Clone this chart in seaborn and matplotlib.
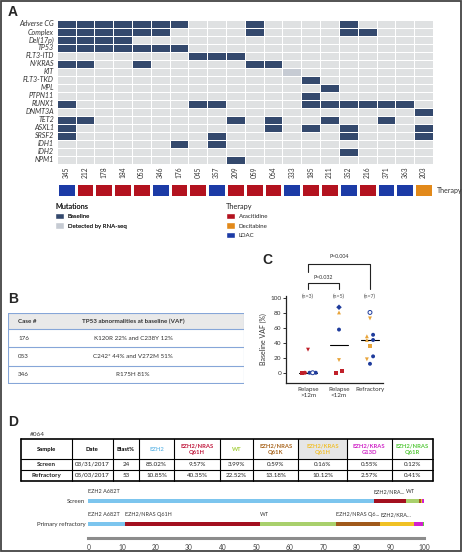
import numpy as np
import pandas as pd
import seaborn as sns
import matplotlib.pyplot as plt
from matplotlib.colors import ListedColormap
from matplotlib.patches import Patch, Rectangle

sns.set_style('white')
plt.rcParams['font.family'] = ['Lato', 'DejaVu Sans']

W, H = 468, 552

# ---------------- data: panel A ----------------
patients = ['345', '212', '178', '184', '053', '346', '176', '045', '357', '209',
            '059', '064', '333', '185', '211', '352', '216', '371', '363', '203']
genes = ['Adverse CG', 'Complex', 'Del(17p)', 'TP53', 'FLT3-ITD', 'N/KRAS', 'KIT',
         'FLT3-TKD', 'MPL', 'PTPN11', 'RUNX1', 'DNMT3A', 'TET2', 'ASXL1', 'SRSF2',
         'IDH1', 'IDH2', 'NPM1']
# column indexes of patients with a baseline mutation
baseline_hits = {
    'Adverse CG': [0, 1, 2, 3, 4, 5, 6, 10, 15],
    'Complex': [0, 1, 2, 3, 4, 5, 10, 15, 16],
    'Del(17p)': [0, 1, 2, 3],
    'TP53': [0, 1, 2, 3, 4, 5, 6],
    'FLT3-ITD': [7, 8, 9],
    'N/KRAS': [0, 1, 4, 10, 11],
    'KIT': [],
    'FLT3-TKD': [13],
    'MPL': [14],
    'PTPN11': [13],
    'RUNX1': [0, 7, 8, 13, 14, 15, 16, 17, 18],
    'DNMT3A': [19],
    'TET2': [0, 1, 9, 11, 14, 17],
    'ASXL1': [0, 11, 13, 15, 19],
    'SRSF2': [0, 8, 15, 19],
    'IDH1': [6, 8],
    'IDH2': [15],
    'NPM1': [9],
}
rnaseq_hits = {'KIT': [12]}
therapy = ['LDAC', 'Azacitidine', 'Azacitidine', 'Azacitidine', 'Azacitidine', 'LDAC',
           'Azacitidine', 'Azacitidine', 'LDAC', 'Azacitidine', 'Azacitidine', 'Azacitidine',
           'LDAC', 'Azacitidine', 'Azacitidine', 'LDAC', 'Azacitidine', 'LDAC', 'LDAC',
           'Decitabine']
therapy_levels = ['Azacitidine', 'Decitabine', 'LDAC']
therapy_colors = ['#b3121f', '#e2891a', '#1c3ba6']

# ---------------- data: panel B ----------------
b_cases = ['176', '053', '346']
b_abn = ['K120R 22% and C238Y 12%', 'C242* 44% and V272M 51%', 'R175H 81%']

# ---------------- data: panel C ----------------
c_groups = ['Relapse\n>12m', 'Relapse\n<12m', 'Refractory']
c_n = ['(n=3)', '(n=5)', '(n=7)']
c_group = [0, 0, 0, 0, 0, 0, 1, 1, 1, 1, 1, 1, 2, 2, 2, 2, 2, 2, 2, 2, 2, 2]
c_vaf = [31, 0, 0, 0, 0, 0, 88, 81, 58, 17, 0, 2, 81, 73, 49, 51, 44, 44, 36, 22, 18, 12]
c_kind = ['red', 'red', 'red', 'blue', 'blue', 'blue',
          'blue', 'orange', 'blue', 'orange', 'red', 'red',
          'blue', 'orange', 'orange', 'blue', 'orange', 'blue', 'orange', 'blue', 'orange', 'blue']
c_marker = ['v', 's', 'o', 'o', 'open', 'o',
            'D', '^', 'o', 'v', 's', 's',
            'open', 'v', '^', 'o', '^', 'o', 's', 'o', 'v', 'o']
c_jitter = [0, -0.2, -0.1, 0.05, 0.15, 0.25, 0, 0, 0, 0, -0.09, 0.1,
            0, 0, -0.1, 0.1, -0.1, 0.1, 0, 0.1, -0.1, 0]
c_palette = {'red': '#c0202a', 'blue': '#1f3c9c', 'orange': '#e8a43a'}

# ---------------- data: panel D ----------------
d_clones = ['EZH2', 'EZH2/NRAS\nQ61H', 'WT', 'EZH2/NRAS\nQ61K', 'EZH2/KRAS\nQ61H',
            'EZH2/KRAS\nG13D', 'EZH2/NRAS\nQ61R']
d_clone_colors = ['#7cc5ee', '#a3101f', '#a9d06c', '#a0591a', '#f0c124', '#d21fcf', '#5fcf3d']
d_head_colors = ['#6fbde8', '#c0183c', '#a5cf3e', '#a8641c', '#f0c030', '#cf22c6', '#55c83a']
d_samples = ['Screen', 'Refractory']
d_dates = ['03/31/2017', '05/03/2017']
d_blast = [24, 53]
screen_vaf = [85.02, 9.57, 3.99, 0.59, 0.16, 0.55, 0.12]
refr_vaf = [10.85, 40.35, 22.52, 13.18, 10.12, 2.57, 0.41]
bar_rows = ['Screen', 'Primary refractory']
screen_labels = ['EZH2 A682T', 'EZH2/NRA...', 'WT', '', '', '', '']
refr_labels = ['EZH2 A682T', 'EZH2/NRAS Q61H', 'WT', 'EZH2/NRAS Q6...', 'EZH2/KRA...', '', '']


def axes_px(x0, y0, x1, y1):
    return fig.add_axes([x0 / W, 1 - y1 / H, (x1 - x0) / W, (y1 - y0) / H])


fig = plt.figure(figsize=(W / 100, H / 100), dpi=100)
fig.patches.append(Rectangle((0.8 / W, 0.8 / H), 460.5 / W, 550.5 / H, transform=fig.transFigure,
                             fill=False, edgecolor='#444444', lw=1.3))

for lab, (x, y) in zip('ABCD', [(8, 12), (8, 299), (262, 260), (8, 422)]):
    fig.text(x / W, 1 - y / H, lab, fontsize=10, fontweight='bold', va='center',
             family=['Liberation Sans', 'DejaVu Sans'])

# ---------------- panel A ----------------
mat = np.zeros((len(genes), len(patients)))
for i, g in enumerate(genes):
    for j in rnaseq_hits.get(g, []):
        mat[i, j] = 1
    for j in baseline_hits[g]:
        mat[i, j] = 2
mut_df = pd.DataFrame(mat, index=genes, columns=patients)

ax_a = axes_px(56.7, 20, 433, 164)
sns.heatmap(mut_df, ax=ax_a, cmap=ListedColormap(['#dfe1e2', '#c6cbd3', '#34496d']),
            vmin=-0.5, vmax=2.5, cbar=False, linewidths=0.6, linecolor='white',
            xticklabels=patients, yticklabels=genes)
ax_a.tick_params(length=0, pad=2)
ax_a.set_yticklabels(genes, rotation=0, fontsize=5.1, style='italic', color='#333333')
ax_a.set_xticklabels(patients, rotation=90, fontsize=4.8, color='#333333')
ax_a.set_xlabel('')
ax_a.set_ylabel('')

ther_df = pd.DataFrame([[therapy_levels.index(t) for t in therapy]], columns=patients)
ax_t = axes_px(56.7, 183, 433, 197)
sns.heatmap(ther_df, ax=ax_t, cmap=ListedColormap(therapy_colors), vmin=-0.5, vmax=2.5,
            cbar=False, linewidths=0.8, linecolor='white', xticklabels=False, yticklabels=False)
fig.text(437 / W, 1 - 190 / H, 'Therapy', fontsize=5, va='center', color='#333333')

leg1 = fig.legend(handles=[Patch(facecolor='#34496d', label='Baseline'),
                           Patch(facecolor='#c6cbd3', label='Detected by RNA-seq')],
                  title='Mutations', loc='upper left', bbox_to_anchor=(55 / W, 1 - 203 / H),
                  frameon=False, fontsize=4.4, title_fontsize=5.3, alignment='left',
                  handlelength=1.4, handleheight=1.3, handletextpad=0.7, labelspacing=0.45,
                  borderpad=0, borderaxespad=0)
fig.legend(handles=[Patch(facecolor=c, label=l) for l, c in zip(therapy_levels, therapy_colors)],
           title='Therapy', loc='upper left', bbox_to_anchor=(226 / W, 1 - 203 / H),
           frameon=False, fontsize=4.4, title_fontsize=5.3, alignment='left',
           handlelength=1.4, handleheight=1.3, handletextpad=0.7, labelspacing=0.45,
           borderpad=0, borderaxespad=0)
fig.add_artist(leg1)

# ---------------- panel B ----------------
ax_b = axes_px(8, 313, 244, 384)
ax_b.set_xlim(8, 244)
ax_b.set_ylim(384, 313)
ax_b.axis('off')
row_edges = [313.3, 329.3, 347.5, 365.7, 383.5]
ax_b.fill_between([8, 244], row_edges[0], row_edges[1], color='#e9e9e9', lw=0)
for y in row_edges:
    ax_b.plot([8, 244], [y, y], color='#86a6d8', lw=0.8)
for x in [8.3, 243.7]:
    ax_b.plot([x, x], [row_edges[0], row_edges[-1]], color='#86a6d8', lw=0.8)
ax_b.text(18, (row_edges[0] + row_edges[1]) / 2, 'Case #', fontsize=4.5, fontweight='bold',
          va='center', color='#333333')
ax_b.text(133, (row_edges[0] + row_edges[1]) / 2, 'TP53 abnormalities at baseline (VAF)',
          fontsize=4.5, fontweight='bold', va='center', ha='center', color='#333333')
for k, (case, abn) in enumerate(zip(b_cases, b_abn)):
    yc = (row_edges[k + 1] + row_edges[k + 2]) / 2
    ax_b.text(18, yc, case, fontsize=4.5, va='center', color='#333333')
    ax_b.text(133, yc, abn, fontsize=4.5, va='center', ha='center', color='#333333')

# ---------------- panel C ----------------
cdf = pd.DataFrame({'x': np.array(c_group) + np.array(c_jitter), 'vaf': c_vaf,
                    'kind': c_kind, 'marker': c_marker})
ax_c = axes_px(286, 296, 383, 383)
filled = cdf[cdf['marker'] != 'open']
sns.scatterplot(data=filled, x='x', y='vaf', hue='kind', palette=c_palette, style='marker',
                markers={m: m for m in filled['marker'].unique()}, s=8, linewidth=0,
                legend=False, ax=ax_c, zorder=3)
hollow = cdf[cdf['marker'] == 'open']
ax_c.scatter(hollow['x'], hollow['vaf'], s=8, facecolors='white',
             edgecolors=[c_palette[k] for k in hollow['kind']], linewidths=0.7, zorder=3)
med = cdf.groupby(np.array(c_group))['vaf'].median()
for g, m in med.items():
    ax_c.plot([g - 0.3, g + 0.3], [m, m], color='black', lw=0.8, zorder=2)
ax_c.set_xlim(-0.71, 2.42)
ax_c.set_ylim(-13.8, 103.1)
ax_c.set_xticks(range(3))
ax_c.set_xticklabels(c_groups, fontsize=4.5, color='#333333', linespacing=1.3)
ax_c.set_yticks(range(0, 101, 20))
ax_c.tick_params(axis='y', labelsize=4.6, length=2, width=0.7, pad=1.5, colors='#333333', left=True)
ax_c.tick_params(axis='x', length=0, pad=3)
ax_c.set_xlabel('')
ax_c.set_ylabel('Baseline VAF (%)', fontsize=5, labelpad=2, color='#333333')
sns.despine(ax=ax_c)
for s in ['left', 'bottom']:
    ax_c.spines[s].set_linewidth(0.9)
    ax_c.spines[s].set_color('#222222')
for g, n in enumerate(c_n):
    ax_c.text(g, 102, n, fontsize=3.8, ha='center', va='center', color='#555555', clip_on=False)
ax_c.plot([0, 0, 1, 1], [112.5, 120.6, 120.6, 112.5], color='#222222', lw=0.8, clip_on=False)
ax_c.text(0.5, 128.5, 'P=0.032', fontsize=3.8, ha='center', va='center', color='#333333')
ax_c.plot([0, 0, 2, 2], [135, 146, 146, 112.5], color='#222222', lw=0.8, clip_on=False)
ax_c.text(1, 156, 'P=0.004', fontsize=3.8, ha='center', va='center', color='#333333')

# ---------------- panel D ----------------
fig.text(30 / W, 1 - 434 / H, '#064', fontsize=4.6, va='center', color='#333333')
col_edges = [20.7, 71.7, 112.7, 139.3, 174, 220, 253.3, 298.3, 346.7, 391.7, 432.7]
trow = [439.3, 459.3, 469.5, 480.7]
ax_d = axes_px(19, 438, 434.5, 482.5)
ax_d.set_xlim(19, 434.5)
ax_d.set_ylim(482.5, 438)
ax_d.axis('off')
ax_d.fill_between([col_edges[7], col_edges[8]], trow[0], trow[1], color='#e6e6e6', lw=0)
for y in trow:
    ax_d.plot([col_edges[0], col_edges[-1]], [y, y], color='black',
              lw=1.2 if y in (trow[0], trow[-1]) else 0.8)
for x in col_edges:
    ax_d.plot([x, x], [trow[0], trow[-1]], color='black',
              lw=1.2 if x in (col_edges[0], col_edges[-1]) else 0.8)
centers = [(a + b) / 2 for a, b in zip(col_edges[:-1], col_edges[1:])]
heads = ['Sample', 'Date', 'Blast%'] + d_clones
hcols = ['black'] * 3 + d_head_colors
for xc, h, c in zip(centers, heads, hcols):
    ax_d.text(xc, (trow[0] + trow[1]) / 2, h, fontsize=4.2, fontweight='bold', ha='center',
              va='center', color=c, linespacing=1.2)
for r, vafs in enumerate([screen_vaf, refr_vaf]):
    yc = (trow[r + 1] + trow[r + 2]) / 2
    cells = [d_samples[r], d_dates[r], str(d_blast[r])] + [f'{v:.2f}%' for v in vafs]
    for k, (xc, t) in enumerate(zip(centers, cells)):
        ax_d.text(xc, yc, t, fontsize=4.5, ha='center', va='center', color='#222222',
                  fontweight='bold' if k == 0 else 'normal')

ax_bar = axes_px(88.3, 486, 424, 538)
cum = np.cumsum(np.array([screen_vaf, refr_vaf]), axis=1)
for i in reversed(range(len(d_clones))):
    sns.barplot(x=cum[:, i], y=bar_rows, color=d_clone_colors[i], orient='h', width=0.18,
                saturation=1, errorbar=None, linewidth=0, ax=ax_bar)
starts = cum - np.array([screen_vaf, refr_vaf])
for r, labels in enumerate([screen_labels, refr_labels]):
    for i, lab in enumerate(labels):
        if lab:
            ax_bar.text(starts[r, i], r - 0.4, lab, fontsize=4.0, va='center', ha='left',
                        color='#333333')
ax_bar.set_xlim(0, 100)
ax_bar.set_ylim(1.61, -0.65)
ax_bar.set_xticks(range(0, 101, 10))
ax_bar.tick_params(axis='x', labelsize=4.8, length=2, width=0.8, colors='#444444', pad=2)
ax_bar.tick_params(axis='y', labelsize=4.4, length=0, pad=2, colors='#333333')
ax_bar.set_xlabel('')
ax_bar.set_ylabel('')
sns.despine(ax=ax_bar, left=True)
ax_bar.spines['bottom'].set_linewidth(2.2)
ax_bar.spines['bottom'].set_color('#8c8c8c')

fig.savefig('out.png', dpi=100)
